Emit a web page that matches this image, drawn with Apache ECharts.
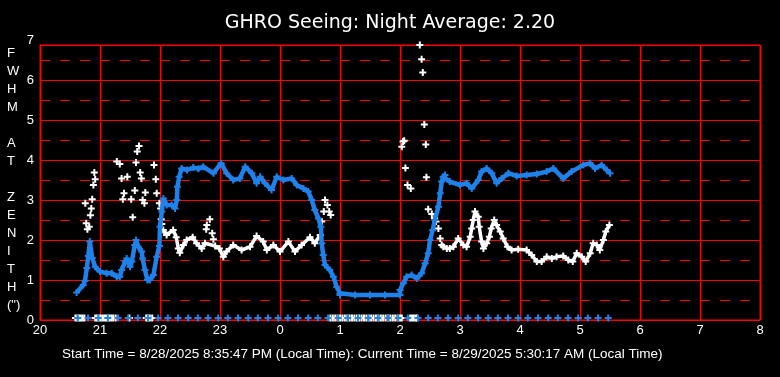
<!DOCTYPE html>
<html><head><meta charset="utf-8">
<script src="https://cdn.jsdelivr.net/npm/echarts@6/dist/echarts.min.js"></script>
<style>html,body{margin:0;padding:0;background:#000}#c{width:780px;height:377px}</style>
</head><body><div id="c"></div><script>
// ---------- data (hours since midnight of start day; 24+ = next morning) ----------
const titleText = 'GHRO Seeing: Night Average: 2.20';
const footerText = 'Start Time = 8/28/2025 8:35:47 PM (Local Time): Current Time = 8/29/2025 5:30:17 AM (Local Time)';
const yTitleLetters = ['F','W','H','M','','A','T','','Z','E','N','I','T','H','(")'];
const xTickHours = [20,21,22,23,24,25,26,27,28,29,30,31,32];
const yTickValues = [0,1,2,3,4,5,6,7];

const blueTrace = [
 [20.61,0.69],[20.72,0.875],[20.75,0.98],[20.78,1.3],[20.805,1.6],[20.83,1.96],[20.87,1.55],[20.92,1.33],
 [21.0,1.21],[21.11,1.17],[21.195,1.17],[21.28,1.08],[21.33,1.08],[21.36,1.25],[21.42,1.46],[21.445,1.54],
 [21.5,1.33],[21.53,1.46],[21.58,1.875],[21.6,2.0],[21.64,1.83],[21.695,1.71],[21.71,1.54],[21.75,1.25],
 [21.79,1.0],[21.83,1.0],[21.89,1.125],[21.945,1.58],[21.99,1.85],[22.0,2.33],[22.03,2.71],[22.055,3.04],
 [22.11,2.875],[22.195,2.875],[22.25,2.79],[22.28,3.0],[22.29,3.33],[22.32,3.58],[22.36,3.79],[22.45,3.75],
 [22.555,3.81],[22.64,3.78],[22.72,3.83],[22.89,3.67],[23.02,3.92],[23.11,3.67],[23.22,3.5],[23.33,3.54],
 [23.42,3.83],[23.53,3.67],[23.61,3.42],[23.67,3.58],[23.75,3.42],[23.86,3.25],[23.945,3.58],[24.055,3.5],
 [24.195,3.54],[24.28,3.375],[24.39,3.29],[24.47,3.21],[24.53,3.0],[24.58,2.75],[24.64,2.54],[24.68,2.33],
 [24.695,1.92],[24.72,1.625],[24.75,1.375],[24.83,1.25],[24.89,1.08],[24.945,0.83],[25.0,0.67],[25.0,0.625],
 [25.25,0.625],[25.5,0.625],[25.75,0.625],[26.0,0.625],[26.0,0.75],[26.055,0.92],[26.11,1.08],[26.195,1.125],
 [26.28,1.04],[26.36,1.17],[26.42,1.42],[26.47,1.67],[26.5,2.0],[26.545,2.25],[26.58,2.5],[26.64,2.83],
 [26.67,3.17],[26.695,3.46],[26.72,3.58],[26.75,3.625],[26.83,3.46],[27.0,3.375],[27.11,3.42],[27.195,3.29],
 [27.305,3.5],[27.36,3.71],[27.445,3.79],[27.53,3.67],[27.61,3.42],[27.695,3.54],[27.805,3.67],[27.945,3.6],
 [28.11,3.625],[28.28,3.65],[28.445,3.71],[28.555,3.79],[28.72,3.54],[28.86,3.71],[29.055,3.875],[29.17,3.92],
 [29.25,3.79],[29.36,3.875],[29.445,3.75],[29.5,3.67]
];
const blueFloorHours = [20.63,20.80,20.97,21.13,21.30,21.47,21.63,21.80,21.97,22.13,22.30,22.47,22.63,22.80,
 22.97,23.13,23.30,23.47,23.63,23.80,23.97,24.13,24.30,24.47,24.63,24.80,24.97,25.13,25.30,25.47,25.63,25.80,
 25.97,26.13,26.30,26.47,26.63,26.80,26.97,27.13,27.30,27.47,27.63,27.80,27.97,28.13,28.30,28.47,28.63,28.80,
 28.97,29.13,29.30,29.47];

const whiteSparse = [
 [20.755,2.92],[20.77,2.42],[20.79,2.27],[20.82,2.33],[20.84,2.62],[20.855,2.79],[20.87,3.02],[20.89,3.375],
 [20.905,3.69],[20.92,3.52],[21.28,3.96],[21.33,3.9],[21.36,3.54],[21.38,3.02],[21.4,3.17],[21.455,3.58],
 [21.52,3.02],[21.545,2.57],[21.58,3.24],[21.6,3.94],[21.62,4.21],[21.65,4.35],[21.67,3.69],[21.69,3.54],
 [21.71,3.0],[21.74,2.92],[21.755,3.19],[21.9,3.875],[21.93,3.52],[21.945,3.17],[21.99,2.92],[22.01,2.79],
 [22.02,2.52],[22.03,2.4],
 [22.77,2.27],[22.78,2.375],[22.83,2.52],[22.87,2.17],[22.89,2.02],
 [24.695,2.46],[24.73,2.71],[24.75,3.0],[24.79,2.875],[24.82,2.71],[24.845,2.625],
 [26.03,4.33],[26.05,4.46],[26.07,4.48],[26.09,3.8],[26.125,3.375],[26.18,3.29],[26.33,6.875],[26.36,6.52],
 [26.38,6.19],[26.405,4.89],[26.43,4.39],[26.44,3.57],[26.47,2.77],[26.53,2.65],[26.575,2.55],[26.6,2.46],
 [26.64,2.29],[26.67,2.04],[26.695,1.875]
];
const whiteBandA = [
 [22.055,2.25],[22.11,2.125],[22.22,2.25],[22.27,2.07],[22.305,1.79],[22.33,1.68],[22.39,1.875],[22.445,2.0],
 [22.545,2.07],[22.61,1.92],[22.695,1.79],[22.75,1.92],[22.92,1.85],[22.99,1.79],[23.055,1.58],[23.11,1.71],
 [23.22,1.875],[23.36,1.75],[23.5,1.83],[23.61,2.1],[23.72,1.96],[23.78,1.75],[23.89,1.875],[24.0,1.71],
 [24.14,1.96],[24.25,1.71],[24.36,1.875],[24.5,2.07],[24.58,1.92],[24.67,2.125]
];
const whiteBandB = [
 [26.72,1.83],[26.78,1.79],[26.83,1.79],[26.89,1.83],[26.97,2.04],[27.055,1.875],[27.11,1.83],[27.17,2.08],
 [27.195,2.29],[27.22,2.5],[27.25,2.71],[27.305,2.58],[27.32,2.33],[27.36,1.96],[27.39,1.79],[27.445,1.92],
 [27.49,2.08],[27.52,2.29],[27.57,2.5],[27.61,2.375],[27.67,2.21],[27.72,2.04],[27.79,1.83],[27.86,1.75],
 [27.97,1.77],[28.11,1.75],[28.195,1.625],[28.28,1.46],[28.36,1.46],[28.445,1.58],[28.53,1.54],[28.61,1.58],
 [28.72,1.6],[28.805,1.5],[28.88,1.46],[28.945,1.67],[29.03,1.58],[29.095,1.46],[29.17,1.67],[29.22,1.92],
 [29.28,1.875],[29.33,1.75],[29.39,2.0],[29.43,2.21],[29.49,2.375]
];
const whiteFloorHours = [
 20.59,20.62,20.65,20.68,20.71,20.74,
 20.92,20.95,20.98,21.01,21.04,21.07,21.1,21.13,21.16,21.19,21.22,21.26,
 21.49,
 21.77,21.8,21.83,21.87,
 24.84,24.88,24.92,24.96,25.0,25.04,25.08,25.12,25.16,25.2,25.24,25.28,25.32,25.36,25.4,25.44,25.48,25.52,
 25.56,25.6,25.64,25.68,25.72,25.76,25.8,25.84,25.88,25.92,25.96,26.0,26.03,
 26.17,26.2,26.23,26.26,26.28
];

// ---------- styles ----------
const RED = '#ff0000', BLUE = '#1e82ea', WHITE = '#ffffff';
const FONT = 'Liberation Sans';
const PLUS = 'path://M2.5,0H4.5V2.5H7V4.5H4.5V7H2.5V4.5H0V2.5H2.5Z';

const chart = echarts.init(document.getElementById('c'), null, {renderer: 'canvas'});
const floor = h => [h, 0];

chart.setOption({
  backgroundColor: '#000',
  animation: false,
  title: {
    text: titleText, left: 'center', top: 9,
    textStyle: {color: WHITE, fontSize: 19, fontWeight: 'normal', fontFamily: 'DejaVu Sans'}
  },
  grid: [
    {left: 40, right: 20, top: 45, bottom: 57, show: true, borderColor: RED, borderWidth: 1, backgroundColor: 'transparent'},
    {left: 40, right: 20, top: 40, bottom: 57, show: false}
  ],
  xAxis: [
    {type: 'value', gridIndex: 0, min: xTickHours[0], max: xTickHours[xTickHours.length - 1], interval: 1,
     axisLine: {show: true, lineStyle: {color: RED, width: 1}}, axisTick: {show: false},
     axisLabel: {color: WHITE, fontSize: 13, fontFamily: FONT, margin: 4, formatter: v => String(v % 24)},
     splitLine: {show: true, lineStyle: {color: RED, width: 1, type: 'solid'}}},
    {type: 'value', gridIndex: 1, min: 20, max: 32, show: false}
  ],
  yAxis: [
    {type: 'value', gridIndex: 0, min: 0, max: 6.875, interval: 0.5,
     axisLine: {show: true, lineStyle: {color: RED, width: 1}}, axisTick: {show: false}, axisLabel: {show: false},
     splitLine: {show: true, lineStyle: {color: RED, width: 1, type: [10, 10], dashOffset: 0}}},
    {type: 'value', gridIndex: 0, min: 0, max: 6.875, interval: 1, position: 'left',
     axisLine: {show: false}, axisTick: {show: false}, axisLabel: {show: false},
     splitLine: {show: true, lineStyle: {color: RED, width: 1, type: 'solid'}}},
    {type: 'value', gridIndex: 1, min: yTickValues[0], max: yTickValues[yTickValues.length - 1], interval: 1,
     axisLine: {show: false}, axisTick: {show: false}, splitLine: {show: false},
     axisLabel: {color: WHITE, fontSize: 13, fontFamily: FONT, margin: 6}}
  ],
  series: [
    {type: 'scatter', xAxisIndex: 0, yAxisIndex: 0, data: whiteFloorHours.map(floor), symbol: PLUS, symbolSize: 7,
     symbolOffset: [0, -2], itemStyle: {color: WHITE, opacity: 1}, z: 3},
    {type: 'line', xAxisIndex: 0, yAxisIndex: 0, data: whiteBandA, symbol: PLUS, symbolSize: 7, showSymbol: true,
     lineStyle: {color: WHITE, width: 3.5}, itemStyle: {color: WHITE, opacity: 1}, z: 3},
    {type: 'line', xAxisIndex: 0, yAxisIndex: 0, data: whiteBandB, symbol: PLUS, symbolSize: 7, showSymbol: true,
     lineStyle: {color: WHITE, width: 3.5}, itemStyle: {color: WHITE, opacity: 1}, z: 3},
    {type: 'scatter', xAxisIndex: 0, yAxisIndex: 0, data: whiteSparse, symbol: PLUS, symbolSize: 7,
     itemStyle: {color: WHITE, opacity: 1}, z: 3},
    {type: 'line', xAxisIndex: 0, yAxisIndex: 0, data: blueTrace, symbol: PLUS, symbolSize: 7, showSymbol: true,
     lineStyle: {color: BLUE, width: 4.5}, itemStyle: {color: BLUE, opacity: 1}, z: 4},
    {type: 'scatter', xAxisIndex: 0, yAxisIndex: 0, data: blueFloorHours.map(floor), symbol: PLUS, symbolSize: 7,
     symbolOffset: [0, -2], itemStyle: {color: BLUE, opacity: 1}, z: 4}
  ],
  graphic: [
    {type: 'text', left: 7, top: 44, style: {text: yTitleLetters.join('\n'), fill: WHITE, font: '13px ' + FONT,
      lineHeight: 18, align: 'center', width: 14}},
    {type: 'text', left: 62, top: 347, style: {text: footerText, fill: WHITE, font: '13.5px ' + FONT}}
  ]
});
</script></body></html>
